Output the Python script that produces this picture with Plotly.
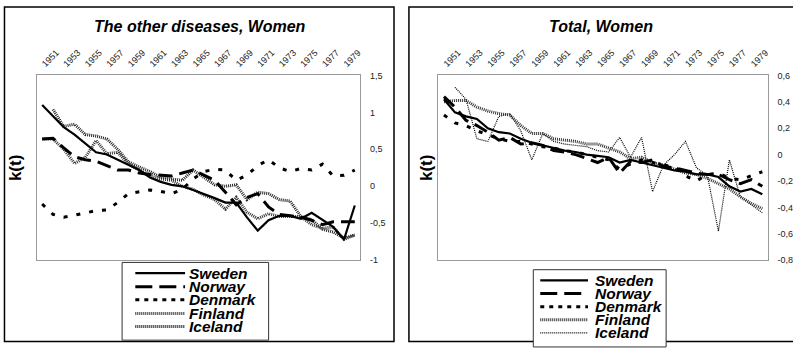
import plotly.graph_objects as go

W, H = 793, 350

years = list(range(1951, 1981))
year_ticks = list(range(1951, 1980, 2))
countries = ["Sweden", "Norway", "Denmark", "Finland", "Iceland"]

# k(t): the other diseases, women
od_sweden = [1.10, 0.95, 0.80, 0.70, 0.58, 0.46, 0.43, 0.36, 0.29, 0.22, 0.12, 0.06, 0.02, 0.00, -0.05,
             -0.10, -0.16, -0.22, -0.22, -0.42, -0.60, -0.46, -0.40, -0.40, -0.44, -0.36, -0.46, -0.55, -0.72, -0.26]
od_norway = [0.64, 0.65, 0.52, 0.40, 0.36, 0.34, 0.28, 0.22, 0.22, 0.18, 0.16, 0.15, 0.14, 0.18, 0.22,
             0.15, 0.08, -0.08, -0.25, -0.15, -0.10, -0.28, -0.38, -0.40, -0.42, -0.46, -0.52, -0.48, -0.48, -0.48]
od_denmark = [-0.24, -0.38, -0.42, -0.39, -0.35, -0.33, -0.32, -0.22, -0.10, -0.07, -0.05, -0.07, -0.10, -0.04, 0.10,
              0.20, 0.23, 0.22, 0.08, 0.15, 0.28, 0.36, 0.25, 0.20, 0.24, 0.22, 0.30, 0.14, 0.15, 0.22]
od_finland = [0.64, 0.64, 0.50, 0.31, 0.39, 0.62, 0.44, 0.46, 0.30, 0.22, 0.14, 0.10, 0.08, 0.00, -0.04,
              -0.12, -0.18, -0.31, -0.15, -0.35, -0.44, -0.37, -0.41, -0.41, -0.41, -0.52, -0.57, -0.55, -0.72, -0.66]
od_iceland = [None, 1.04, 0.81, 0.84, 0.70, 0.68, 0.64, 0.50, 0.33, 0.26, 0.20, 0.12, 0.10, 0.08, 0.22,
              0.12, 0.02, 0.00, 0.02, -0.18, -0.08, -0.10, -0.18, -0.20, -0.41, -0.45, -0.58, -0.62, -0.70, -0.66]

# k(t): total, women
tot_sweden = [0.42, 0.32, 0.29, 0.27, 0.20, 0.17, 0.16, 0.12, 0.09, 0.07, 0.05, 0.03, 0.02, 0.00, -0.01,
              -0.02, -0.06, -0.04, -0.06, -0.08, -0.10, -0.12, -0.13, -0.15, -0.15, -0.17, -0.24, -0.28, -0.26, -0.30]
tot_norway = [0.44, 0.36, 0.26, 0.22, 0.17, 0.11, 0.13, 0.08, 0.09, 0.07, 0.03, 0.02, 0.00, -0.03, -0.06,
              -0.02, -0.14, -0.05, -0.06, -0.04, -0.09, -0.10, -0.12, -0.14, -0.15, -0.15, -0.19, -0.22, -0.19, -0.24]
tot_denmark = [0.30, 0.24, 0.22, 0.18, 0.15, 0.12, 0.10, 0.10, 0.08, 0.06, 0.05, 0.03, 0.02, 0.00, -0.02,
               -0.04, -0.11, -0.07, -0.04, -0.06, -0.08, -0.09, -0.16, -0.20, -0.15, -0.14, -0.18, -0.19, -0.16, -0.13]
tot_finland = [0.40, 0.41, 0.41, 0.36, 0.33, 0.31, 0.30, 0.22, 0.16, 0.16, 0.12, 0.11, 0.10, 0.08, 0.08,
               0.05, 0.02, -0.03, -0.02, -0.06, -0.08, -0.11, -0.14, -0.15, -0.18, -0.22, -0.26, -0.32, -0.37, -0.41]
tot_iceland = [None, 0.51, 0.42, 0.12, 0.10, 0.29, 0.31, 0.18, -0.04, 0.16, 0.10, 0.08, 0.07, 0.06, 0.03,
               0.02, 0.13, -0.02, 0.13, -0.28, -0.08, 0.00, 0.10, -0.10, -0.16, -0.58, -0.04, -0.32, -0.38, -0.44]

year_labels = [str(y) for y in year_ticks]
left_yticks = [-1, -0.5, 0, 0.5, 1, 1.5]
left_ylabels = ["-1", "-0,5", "0", "0,5", "1", "1,5"]
right_yticks = [-0.8, -0.6, -0.4, -0.2, 0, 0.2, 0.4, 0.6]
right_ylabels = ["-0,8", "-0,6", "-0,4", "-0,2", "0", "0,2", "0,4", "0,6"]

titles = ["The other diseases, Women", "Total, Women"]

# line styles per country (left panel, right panel)
hatch = "1px,1px"
styles_left = {
    "Sweden": dict(color="black", width=2.2, dash="solid"),
    "Norway": dict(color="black", width=3, dash="14px,7px"),
    "Denmark": dict(color="black", width=3, dash="4px,9px"),
    "Finland": dict(color="#333333", width=3, dash=hatch),
    "Iceland": dict(color="#222222", width=3, dash=hatch),
}
styles_right = {
    "Sweden": dict(color="black", width=2.2, dash="solid"),
    "Norway": dict(color="black", width=3, dash="14px,7px"),
    "Denmark": dict(color="black", width=3, dash="4px,9px"),
    "Finland": dict(color="#333333", width=3, dash=hatch),
    "Iceland": dict(color="black", width=1.2, dash="1px,1px"),
}
# legend samples are drawn shorter, so the patterns are a little tighter there
legend_dash = {"Sweden": "solid", "Norway": "17px,7px", "Denmark": "4px,5px"}

left_series = dict(zip(countries, [od_sweden, od_norway, od_denmark, od_finland, od_iceland]))
right_series = dict(zip(countries, [tot_sweden, tot_norway, tot_denmark, tot_finland, tot_iceland]))


def px(x):
    return x / W


def py(y):
    return 1 - y / H


fig = go.Figure()

# hatched lines first so the solid and dashed series sit on top
order = ["Iceland", "Finland", "Denmark", "Norway", "Sweden"]
for c in order:
    fig.add_trace(go.Scatter(x=years, y=left_series[c], mode="lines", name=c,
                             line=styles_left[c], xaxis="x", yaxis="y",
                             showlegend=False, connectgaps=False))
    fig.add_trace(go.Scatter(x=years, y=right_series[c], mode="lines", name=c,
                             line=styles_right[c], xaxis="x2", yaxis="y2",
                             showlegend=False, connectgaps=False))

y_dom = [py(262.7), py(72.5)]
common_x = dict(type="linear", range=[1950.5, 1980.5], side="top", tickmode="array",
                tickvals=year_ticks, ticktext=year_labels, tickangle=-45,
                tickfont=dict(family="Arial, Liberation Sans", size=9, color="#222"),
                showline=True, mirror=True, linecolor="#9a9a9a", linewidth=1,
                showgrid=False, zeroline=False, ticks="outside", ticklen=2,
                tickcolor="rgba(0,0,0,0)")
common_y = dict(side="right", tickmode="array", showgrid=False, zeroline=False,
                showline=True, mirror=True, linecolor="#9a9a9a", linewidth=1,
                ticks="outside", ticklen=7, tickcolor="rgba(0,0,0,0)",
                tickfont=dict(family="Arial, Liberation Sans", size=9, color="#222"))

fig.update_layout(
    width=W, height=H,
    margin=dict(l=0, r=0, t=0, b=0),
    paper_bgcolor="white", plot_bgcolor="white",
    showlegend=False,
    xaxis=dict(domain=[px(37), px(362)], anchor="y", **common_x),
    yaxis=dict(domain=y_dom, anchor="x", range=[-1, 1.5], tickvals=left_yticks,
               ticktext=left_ylabels, **common_y),
    xaxis2=dict(domain=[px(440.7), px(771.7)], anchor="y2", **common_x),
    yaxis2=dict(domain=y_dom, anchor="x2", range=[-0.8, 0.6], tickvals=right_yticks,
                ticktext=right_ylabels, **common_y),
)

shapes = []
annotations = []

# panel frames
shapes.append(dict(type="rect", xref="paper", yref="paper", x0=px(4.5), x1=px(396), y0=py(346.5), y1=py(2),
                   line=dict(color="black", width=1.5), layer="below"))
shapes.append(dict(type="rect", xref="paper", yref="paper", x0=px(411), x1=px(820), y0=py(346.5), y1=py(2),
                   line=dict(color="black", width=1.5), layer="below"))

title_font = dict(family="Arial, Liberation Sans", size=16, color="black")
for title, cx in zip(titles, [201, 604]):
    annotations.append(dict(text="<b><i>%s</i></b>" % title, xref="paper", yref="paper",
                            x=px(cx), y=py(22), showarrow=False, xanchor="center", yanchor="middle",
                            font=title_font))

for kx in [15, 428]:
    annotations.append(dict(text="<b>k(t)</b>", xref="paper", yref="paper", x=px(kx), y=py(168),
                            showarrow=False, textangle=-90, xanchor="center", yanchor="middle",
                            font=dict(family="Arial, Liberation Sans", size=17, color="black")))

# legends: frame, sample line and label for each country
legend_font = dict(family="Arial, Liberation Sans", size=15.5, color="black")
legend_specs = [
    dict(box=(122.7, 270, 265, 345), line=(136, 186), text_x=188, rows=[276, 290, 303.5, 317.5, 331],
         styles=styles_left),
    dict(box=(536, 669.5, 272.5, 352), line=(543, 591), text_x=596, rows=[283.5, 297, 310.5, 324, 337.5],
         styles=styles_right),
]
for spec in legend_specs:
    bx0, bx1, by0, by1 = spec["box"]
    shapes.append(dict(type="rect", xref="paper", yref="paper", x0=px(bx0), x1=px(bx1),
                       y0=py(by1), y1=py(by0), line=dict(color="#333", width=1),
                       fillcolor="white"))
    lx0, lx1 = spec["line"]
    for c, ry in zip(countries, spec["rows"]):
        st = spec["styles"][c]
        shapes.append(dict(type="line", xref="paper", yref="paper", x0=px(lx0), x1=px(lx1),
                           y0=py(ry), y1=py(ry),
                           line=dict(color=st["color"], width=st["width"],
                                     dash=legend_dash.get(c, st["dash"]))))
        annotations.append(dict(text="<b><i>%s</i></b>" % c, xref="paper", yref="paper",
                                x=px(spec["text_x"]), y=py(ry), showarrow=False, xanchor="left",
                                yanchor="middle", font=legend_font))

fig.update_layout(shapes=shapes, annotations=annotations)

fig.write_html("out.html")
